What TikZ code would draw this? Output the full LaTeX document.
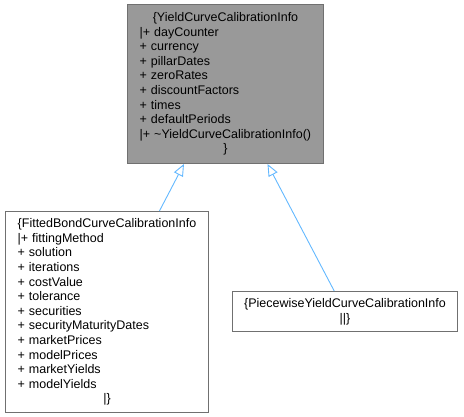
\documentclass[tikz,border=0pt]{standalone}
\usepackage{fontspec}
\setmainfont{Liberation Sans}
\usetikzlibrary{arrows.meta}
\definecolor{edgeblue}{HTML}{63B8FF}
\definecolor{boxborder}{HTML}{707070}
\definecolor{basefill}{HTML}{999999}
\begin{document}
\begin{tikzpicture}[x=1pt,y=-1pt,
  cls/.style={draw=boxborder, line width=1pt, fill=white, anchor=north west,
    inner xsep=12pt, inner ysep=0pt, align=left,
    font=\fontsize{12.5}{14.6}\selectfont},
  inh/.style={draw=edgeblue, line width=0.9pt,
    -{Triangle[length=12pt, width=10pt, fill=white]}}]
\useasboundingbox (0,0) rectangle (464,417);
\node[cls, fill=basefill, text width=172pt, minimum height=159pt] (base) at (127,4) {%
\makebox[\linewidth]{\{YieldCurveCalibrationInfo}\\
|+ dayCounter\\
+ currency\\
+ pillarDates\\
+ zeroRates\\
+ discountFactors\\
+ times\\
+ defaultPeriods\\
|+ \textasciitilde YieldCurveCalibrationInfo()\\
\makebox[\linewidth]{\}}};
\node[cls, text width=179pt, minimum height=201pt] (fbc) at (5,211) {%
\makebox[\linewidth]{\{FittedBondCurveCalibrationInfo}\\
|+ fittingMethod\\
+ solution\\
+ iterations\\
+ costValue\\
+ tolerance\\
+ securities\\
+ securityMaturityDates\\
+ marketPrices\\
+ modelPrices\\
+ marketYields\\
+ modelYields\\
\makebox[\linewidth]{|\}}};
\node[cls, text width=201pt, minimum height=40pt] (pyc) at (232,291) {%
\makebox[\linewidth]{\{PiecewiseYieldCurveCalibrationInfo}\\
\makebox[\linewidth]{||\}}};
\draw[inh] (fbc) -- (base);
\draw[inh] (pyc) -- (base);
\end{tikzpicture}
\end{document}
